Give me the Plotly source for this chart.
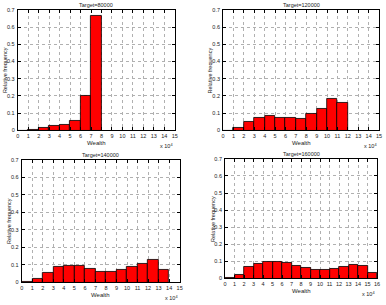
import plotly.graph_objects as go

W, H = 386, 305

titles = ["Target=80000", "Target=120000", "Target=140000", "Target=160000"]
freq_80k = [0.0, 0.006, 0.017, 0.028, 0.034, 0.058, 0.198, 0.665]
freq_120k = [0.0, 0.017, 0.052, 0.073, 0.086, 0.073, 0.073, 0.067, 0.095, 0.125, 0.183, 0.159]
freq_140k = [0.002, 0.02, 0.054, 0.09, 0.097, 0.093, 0.08, 0.062, 0.062, 0.071, 0.088, 0.108, 0.129, 0.071]
freq_160k = [0.002, 0.02, 0.066, 0.087, 0.096, 0.096, 0.09, 0.072, 0.06, 0.05, 0.05, 0.055, 0.07, 0.08, 0.075, 0.03]
x_max = [15, 15, 15, 16]
y_ticks = [0, 0.1, 0.2, 0.3, 0.4, 0.5, 0.6, 0.7]

series = [freq_80k, freq_120k, freq_140k, freq_160k]

# pixel boxes (left, right, top, bottom)
boxes = [(16, 175, 7, 130), (224, 382, 7, 130), (20, 180, 160, 285), (226, 380, 159, 281)]

fig = go.Figure()
font = "Liberation Sans, Arial, sans-serif"

def px(x):
    return x / W

def py(y):
    return 1 - y / H

for i, (vals, box, xm) in enumerate(zip(series, boxes, x_max)):
    n = i + 1
    xa = "x" if n == 1 else f"x{n}"
    ya = "y" if n == 1 else f"y{n}"
    centers = [k + 0.5 for k in range(len(vals))]
    fig.add_trace(go.Bar(x=centers, y=vals, width=1, xaxis=xa, yaxis=ya,
                         marker=dict(color="#ff0000", line=dict(color="black", width=0.8)),
                         showlegend=False))
    l, r, t, b = box
    common = dict(showline=True, mirror="ticks", linecolor="black", linewidth=1,
                  ticks="inside", ticklen=3, tickcolor="black",
                  showgrid=True, gridcolor="#b0b0b0", griddash="dot", gridwidth=1,
                  zeroline=False, tickfont=dict(size=5.5, family=font, color="#222"))
    fig.layout[f"xaxis{'' if n == 1 else n}"] = dict(
        domain=[px(l), px(r)], anchor=ya, range=[0, xm],
        tickvals=list(range(xm + 1)), ticktext=[str(v) for v in range(xm + 1)], **common)
    fig.layout[f"yaxis{'' if n == 1 else n}"] = dict(
        domain=[py(b), py(t)], anchor=xa, range=[0, 0.7], ticklabelstandoff=1,
        tickvals=y_ticks, ticktext=["0"] + [f"{v:.1f}" for v in y_ticks[1:]], **common)
    cx = (l + r) / 2
    fig.add_annotation(text=titles[i], x=px(cx), y=py(t - 0.5), xref="paper", yref="paper",
                       xanchor="center", yanchor="bottom", showarrow=False, borderpad=0,
                       font=dict(size=5.5, family=font, color="#222"))
    fig.add_annotation(text="Wealth", x=px(cx), y=py(b + 8), xref="paper", yref="paper",
                       xanchor="center", yanchor="top", showarrow=False,
                       font=dict(size=6, family=font, color="#222"))
    fig.add_annotation(text="x 10<sup>4</sup>", x=px(r), y=py(b + 11), xref="paper", yref="paper",
                       xanchor="right", yanchor="top", showarrow=False,
                       font=dict(size=5.5, family=font, color="#222"))
    fig.add_annotation(text="Relative frequency", x=px(l - 13), y=py((t + b) / 2), xref="paper", yref="paper",
                       xanchor="center", yanchor="middle", textangle=-90, showarrow=False,
                       font=dict(size=5.5, family=font, color="#222"))

fig.update_layout(width=W, height=H, margin=dict(l=0, r=0, t=0, b=0),
                  paper_bgcolor="white", plot_bgcolor="white", bargap=0)
fig.write_html("out.html")
